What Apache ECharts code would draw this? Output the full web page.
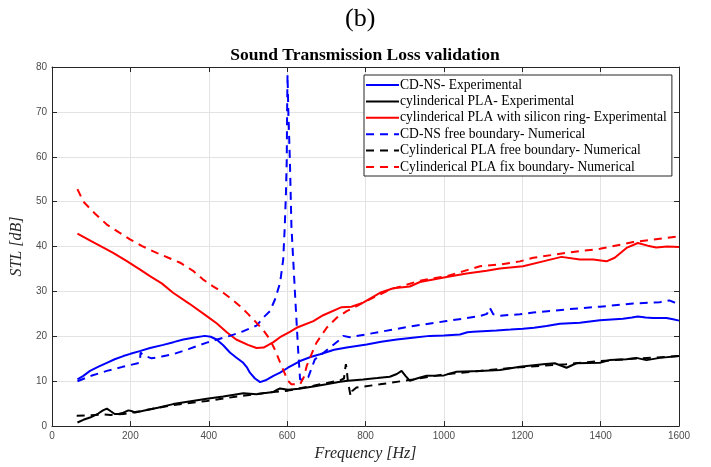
<!DOCTYPE html>
<html style="height: 100%">

<head>
    <meta charset="utf-8">
</head>

<body style="height: 100%; margin: 0; background: #fff">
    <div id="container" style="width: 711px; height: 467px"></div>

    <script type="text/javascript" src="https://cdn.jsdelivr.net/npm/echarts@6/dist/echarts.min.js"></script>

    <script type="text/javascript">

        // [frequency Hz, STL dB]
        var cdnsExp = [[65, 10.4], [80, 11.2], [97, 12.3], [120, 13.3], [140, 14.1], [160, 14.9], [182, 15.6], [200, 16.1], [224, 16.7], [250, 17.4], [284, 18.1], [310, 18.7], [335, 19.3], [360, 19.7], [390, 20.1], [405, 19.9], [420, 19.3], [437, 18], [454, 16.4], [470, 15.3], [488, 14.1], [498, 13], [505, 11.9], [518, 10.6], [531, 9.8], [545, 10.2], [565, 11.2], [582, 11.9], [602, 13], [633, 14.5], [660, 15.4], [684, 16], [720, 17], [752, 17.5], [803, 18.2], [840, 18.8], [880, 19.3], [920, 19.7], [964, 20.1], [1000, 20.2], [1041, 20.4], [1060, 20.9], [1075, 21], [1134, 21.3], [1170, 21.5], [1202, 21.7], [1230, 21.9], [1262, 22.3], [1296, 22.8], [1347, 23], [1398, 23.6], [1457, 23.9], [1480, 24.2], [1495, 24.4], [1515, 24.2], [1533, 24.1], [1568, 24.1], [1585, 23.8], [1600, 23.5]];

        var plaExp = [[65, 0.8], [80, 1.4], [97, 1.9], [118, 2.8], [130, 3.5], [140, 3.9], [150, 3.3], [160, 2.7], [170, 2.7], [182, 3], [195, 3.5], [205, 3.3], [212, 3], [233, 3.4], [270, 4.1], [309, 4.9], [350, 5.5], [395, 6.1], [437, 6.6], [465, 7], [488, 7.3], [522, 7.1], [545, 7.4], [565, 7.6], [575, 8.1], [582, 8.4], [602, 8.1], [630, 8.3], [667, 8.8], [700, 9.3], [735, 9.9], [755, 10.1], [794, 10.4], [830, 10.7], [862, 11], [880, 11.6], [892, 12.3], [902, 11.2], [913, 10.1], [935, 10.7], [956, 11.2], [1000, 11.3], [1032, 12.1], [1092, 12.3], [1143, 12.5], [1194, 13.2], [1253, 13.8], [1283, 14], [1313, 13], [1338, 14], [1398, 14.1], [1423, 14.7], [1466, 14.9], [1491, 15.2], [1517, 14.7], [1551, 15.2], [1600, 15.6]];

        var ringExp = [[65, 42.9], [100, 41.2], [130, 39.8], [156, 38.6], [190, 36.8], [224, 34.9], [250, 33.4], [280, 31.8], [309, 29.7], [350, 27.3], [395, 24.5], [420, 22.9], [446, 20.9], [470, 19.3], [500, 18.1], [522, 17.4], [540, 17.5], [565, 18.7], [582, 19.8], [607, 21], [624, 21.9], [667, 23.4], [692, 24.7], [739, 26.5], [764, 26.6], [794, 27.5], [837, 29.7], [871, 30.7], [913, 31.1], [939, 32.1], [1007, 33.2], [1058, 34], [1109, 34.6], [1143, 35.1], [1202, 35.6], [1253, 36.7], [1300, 37.7], [1347, 37.1], [1381, 37.1], [1415, 36.7], [1436, 37.5], [1466, 39.7], [1495, 40.8], [1520, 40.2], [1542, 39.8], [1570, 40], [1600, 39.9]];

        var cdnsFreeNum = [[65, 10], [100, 11.2], [140, 12.3], [180, 13.2], [224, 14.1], [226, 16.4], [232, 15.8], [254, 15.1], [280, 15.5], [309, 16], [350, 17.2], [395, 18.6], [454, 20.1], [490, 21.2], [522, 22.4], [543, 24.5], [556, 25.6], [569, 28.2], [582, 31.9], [590, 37.1], [594, 44.5], [597, 52], [599, 59.3], [600, 70.4], [601, 78.3], [603, 70.4], [607, 59.3], [611, 44.5], [620, 29.7], [628, 17.1], [633, 10.4], [641, 10.4], [654, 10.9], [671, 14.9], [684, 15.7], [709, 17.5], [735, 19.3], [743, 20.1], [760, 19.8], [800, 20.4], [837, 21], [922, 22.3], [1007, 23.4], [1092, 24.5], [1110, 25], [1117, 26.4], [1122, 26], [1126, 24.9], [1143, 24.6], [1194, 24.9], [1228, 25.3], [1313, 26], [1398, 26.6], [1483, 27.3], [1551, 27.6], [1575, 28], [1580, 28.4], [1587, 27.6], [1600, 27.3]];

        var plaFreeNum = [[63, 2.3], [101, 2.4], [127, 2.6], [150, 2.5], [182, 2.7], [224, 3.3], [309, 4.7], [395, 5.6], [480, 6.7], [565, 7.6], [602, 7.9], [667, 9], [735, 10.2], [745, 10.6], [748, 12.7], [750, 13.8], [752, 12.7], [755, 10], [762, 6.7], [766, 7.8], [777, 8.6], [837, 9.3], [922, 10.4], [1007, 11.6], [1092, 12.3], [1194, 13.1], [1313, 13.8], [1398, 14.5], [1483, 15], [1600, 15.6]];

        var ringFixNum = [[65, 52.8], [80, 50], [110, 47.3], [140, 44.9], [170, 43.2], [199, 41.6], [230, 40.1], [267, 38.6], [300, 37.4], [327, 36.4], [360, 34.6], [385, 32.7], [410, 31.2], [437, 29.7], [460, 28.2], [480, 26.7], [500, 25], [522, 23], [540, 21.3], [556, 19.3], [570, 16.8], [582, 14.2], [595, 11.5], [602, 10.1], [611, 9.3], [633, 9.3], [643, 11], [650, 13.4], [662, 16], [675, 18.6], [701, 21.9], [726, 24.1], [752, 25.6], [794, 27.5], [862, 30.4], [939, 32.4], [1007, 33.4], [1092, 35.6], [1143, 36], [1194, 36.7], [1228, 37.5], [1313, 38.6], [1398, 39.5], [1483, 41], [1600, 42.3]];

        var seriesNames = [
            'CD-NS- Experimental',
            'cylinderical PLA- Experimental',
            'cylinderical PLA with silicon ring- Experimental',
            'CD-NS free boundary- Numerical',
            'Cylinderical PLA free boundary- Numerical',
            'Cylinderical PLA fix boundary- Numerical'
        ];
        var seriesData = [cdnsExp, plaExp, ringExp, cdnsFreeNum, plaFreeNum, ringFixNum];
        var seriesColors = ['#0000ff', '#000000', '#ff0000', '#0000ff', '#000000', '#ff0000'];
        var seriesDashed = [false, false, false, true, true, true];

        var serif = '"Liberation Serif", "Times New Roman", serif';
        var sans = '"Liberation Sans", Arial, sans-serif';

        var dom = document.getElementById('container');
        var myChart = echarts.init(dom, null, { renderer: 'canvas' });

        var axisCommon = {
            type: 'value',
            axisLine: { show: true, onZero: false, lineStyle: { color: '#262626', width: 1 } },
            axisTick: { show: true, inside: true, length: 5, lineStyle: { color: '#262626' } }
        };

        var series = seriesNames.map(function (name, i) {
            return {
                name: name,
                type: 'line',
                data: seriesData[i],
                symbol: 'none',
                showSymbol: false,
                clip: true,
                color: seriesColors[i],
                lineStyle: {
                    width: 2,
                    color: seriesColors[i],
                    type: seriesDashed[i] ? [8, 6] : 'solid'
                },
                z: 3
            };
        });

        var option = {
            backgroundColor: '#fff',
            animation: false,
            graphic: [
                {
                    type: 'text', left: 365 - 20, top: 6,
                    style: { text: '(b)', font: '26px ' + serif, fill: '#000', width: 40, align: 'center' }
                },
                {
                    type: 'text', x: 365, y: 46,
                    style: { text: 'Sound Transmission Loss validation', font: 'bold 17.5px ' + serif, fill: '#000', textAlign: 'center' }
                }
            ],
            grid: { left: 52, right: 32, top: 67, bottom: 40 },
            legend: {
                orient: 'vertical',
                left: 364,
                top: 75,
                padding: [3, 5, 2, 1],
                itemWidth: 33,
                itemHeight: 14,
                itemGap: 2.4,
                borderColor: '#262626',
                borderWidth: 1,
                borderRadius: 0,
                backgroundColor: '#fff',
                itemStyle: { opacity: 0 },
                textStyle: { fontFamily: serif, fontSize: 13.6, color: '#000', padding: [0, 0, 0, -4] },
                data: seriesNames
            },
            xAxis: [
                Object.assign({}, axisCommon, {
                    min: 0, max: 1600, interval: 200,
                    position: 'bottom',
                    name: 'Frequency [Hz]',
                    nameLocation: 'middle',
                    nameGap: 17,
                    nameTextStyle: { fontFamily: serif, fontStyle: 'italic', fontSize: 16, color: '#262626' },
                    axisLabel: { fontFamily: sans, fontSize: 10, color: '#4d4d4d', margin: 5, formatter: function (v) { return String(v); } },
                    splitLine: { show: true, lineStyle: { color: '#e3e3e3', width: 1 } }
                }),
                Object.assign({}, axisCommon, {
                    min: 0, max: 1600, interval: 200,
                    position: 'top',
                    axisLabel: { show: false },
                    splitLine: { show: false }
                })
            ],
            yAxis: [
                Object.assign({}, axisCommon, {
                    min: 0, max: 80, interval: 10,
                    position: 'left',
                    name: 'STL [dB]',
                    nameLocation: 'middle',
                    nameGap: 19,
                    nameTextStyle: { fontFamily: serif, fontStyle: 'italic', fontSize: 16, color: '#262626' },
                    axisLabel: { fontFamily: sans, fontSize: 10, color: '#4d4d4d', margin: 5 },
                    splitLine: { show: true, lineStyle: { color: '#e3e3e3', width: 1 } }
                }),
                Object.assign({}, axisCommon, {
                    min: 0, max: 80, interval: 10,
                    position: 'right',
                    axisLabel: { show: false },
                    splitLine: { show: false }
                })
            ],
            series: series
        };

        myChart.setOption(option);

    </script>
</body>

</html>
